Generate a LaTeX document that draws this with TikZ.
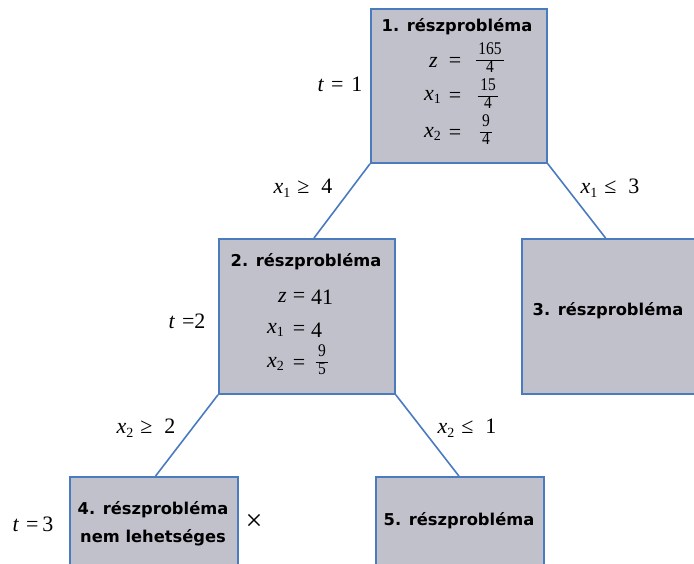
\documentclass[tikz,border=0pt]{standalone}
\usepackage{fontspec}
\setmainfont{Liberation Serif}
\newfontfamily\boxfont{DejaVu Sans}
\usetikzlibrary{calc}
\definecolor{boxfill}{HTML}{C1C1CC}
\definecolor{boxline}{HTML}{4A7BBF}
\setlength\arrayrulewidth{0.6pt}
\newcommand{\vv}[2]{\textit{#1}\raisebox{-0.35ex}{\fontsize{14}{14}\selectfont #2}}
\newcommand{\fr}[2]{{\fontsize{15.5}{16}\selectfont\renewcommand\arraystretch{1.1}\begin{tabular}{@{\,}c@{\,}}\scalebox{1}[1.15]{#1}\\\hline \scalebox{1}[1.15]{#2}\end{tabular}}}
\begin{document}
\begin{tikzpicture}[x=1pt,y=-1pt,
  probbox/.style={draw=boxline,fill=boxfill,line width=1.8pt,anchor=north west,inner sep=0pt},
  ttl/.style={font=\boxfont\bfseries\fontsize{16.3}{19}\selectfont,inner sep=0pt},
  mth/.style={font=\fontsize{22}{24}\selectfont,inner sep=0pt},
  edge/.style={draw=boxline,line width=1.6pt}]
\clip (0,0) rectangle (694,564);
\useasboundingbox (0,0) rectangle (694,564);
% boxes
\node[probbox,minimum width=176pt,minimum height=154pt] (b1) at (370,8) {};
\node[probbox,minimum width=176pt,minimum height=155pt] (b2) at (218,238) {};
\node[probbox,minimum width=182pt,minimum height=155pt] (b3) at (521,238) {};
\node[probbox,minimum width=168pt,minimum height=100pt] (b4) at (69,476) {};
\node[probbox,minimum width=168pt,minimum height=100pt] (b5) at (375,476) {};
% connectors
\coordinate (t2) at ($(b2.north west)!0.54!(b2.north east)$);
\coordinate (t3) at ($(b3.north west)!0.46!(b3.north east)$);
\coordinate (t4) at ($(b4.north west)!0.51!(b4.north east)$);
\coordinate (t5) at ($(b5.north west)!0.494!(b5.north east)$);
\draw[edge] (b1.south west) -- (t2);
\draw[edge] (b1.south east) -- (t3);
\draw[edge] (b2.south west) -- (t4);
\draw[edge] (b2.south east) -- (t5);
% box 1 contents
\node[ttl] (h1) at (457,27) {1. részprobléma};
\node[mth,anchor=east] (z1) at (438,62) {\textit{z}};
\node[mth] (e1a) at (455,62) {=};
\node[mth] (f1a) at (490,60) {\fr{165}{4}};
\node[mth,anchor=east] (xa1) at (441,97) {\vv{x}{1}};
\node[mth] (e1b) at (455,97) {=};
\node[mth] (f1b) at (488,96) {\fr{15}{4}};
\node[mth,anchor=east] (xb1) at (441,134) {\vv{x}{2}};
\node[mth] (e1c) at (455,134) {=};
\node[mth] (f1c) at (486,132) {\fr{9}{4}};
% box 2 contents
\node[ttl] (h2) at (306,262) {2. részprobléma};
\node[mth,anchor=east] (z2) at (287,297) {\textit{z}};
\node[mth] (e2a) at (299,297) {=};
\node[mth,anchor=west] (v2a) at (311,297) {41};
\node[mth,anchor=east] (xa2) at (284,330) {\vv{x}{1}};
\node[mth] (e2b) at (299,330) {=};
\node[mth,anchor=west] (v2b) at (311,330) {4};
\node[mth,anchor=east] (xb2) at (284,364) {\vv{x}{2}};
\node[mth] (e2c) at (299,364) {=};
\node[mth] (f2c) at (322,362) {\fr{9}{5}};
% other boxes
\node[ttl] (h3) at (608,311) {3. részprobléma};
\node[ttl,align=center] (h4) at (153,524) {4. részprobléma\\[9pt]nem lehetséges};
\node[ttl] (h5) at (459,521) {5. részprobléma};
\node[font=\fontsize{30}{30}\selectfont,inner sep=0pt] (cross) at (254,522) {×};
% labels
\node[mth] (l1) at (340,84) {\textit{t}\hspace{7pt}=\hspace{8pt}1};
\node[mth] (l2) at (187,321) {\textit{t}\hspace{7pt}=2};
\node[mth] (l3) at (33,524) {\textit{t}\hspace{7pt}=\hspace{4pt}3};
\node[mth] (c1) at (303,188) {\vv{x}{1}\hspace{7pt}≥\hspace{12pt}4};
\node[mth] (c2) at (610,188) {\vv{x}{1}\hspace{7pt}≤\hspace{12pt}3};
\node[mth] (c3) at (146,428) {\vv{x}{2}\hspace{7pt}≥\hspace{12pt}2};
\node[mth] (c4) at (467,428) {\vv{x}{2}\hspace{7pt}≤\hspace{12pt}1};
\end{tikzpicture}
\end{document}
